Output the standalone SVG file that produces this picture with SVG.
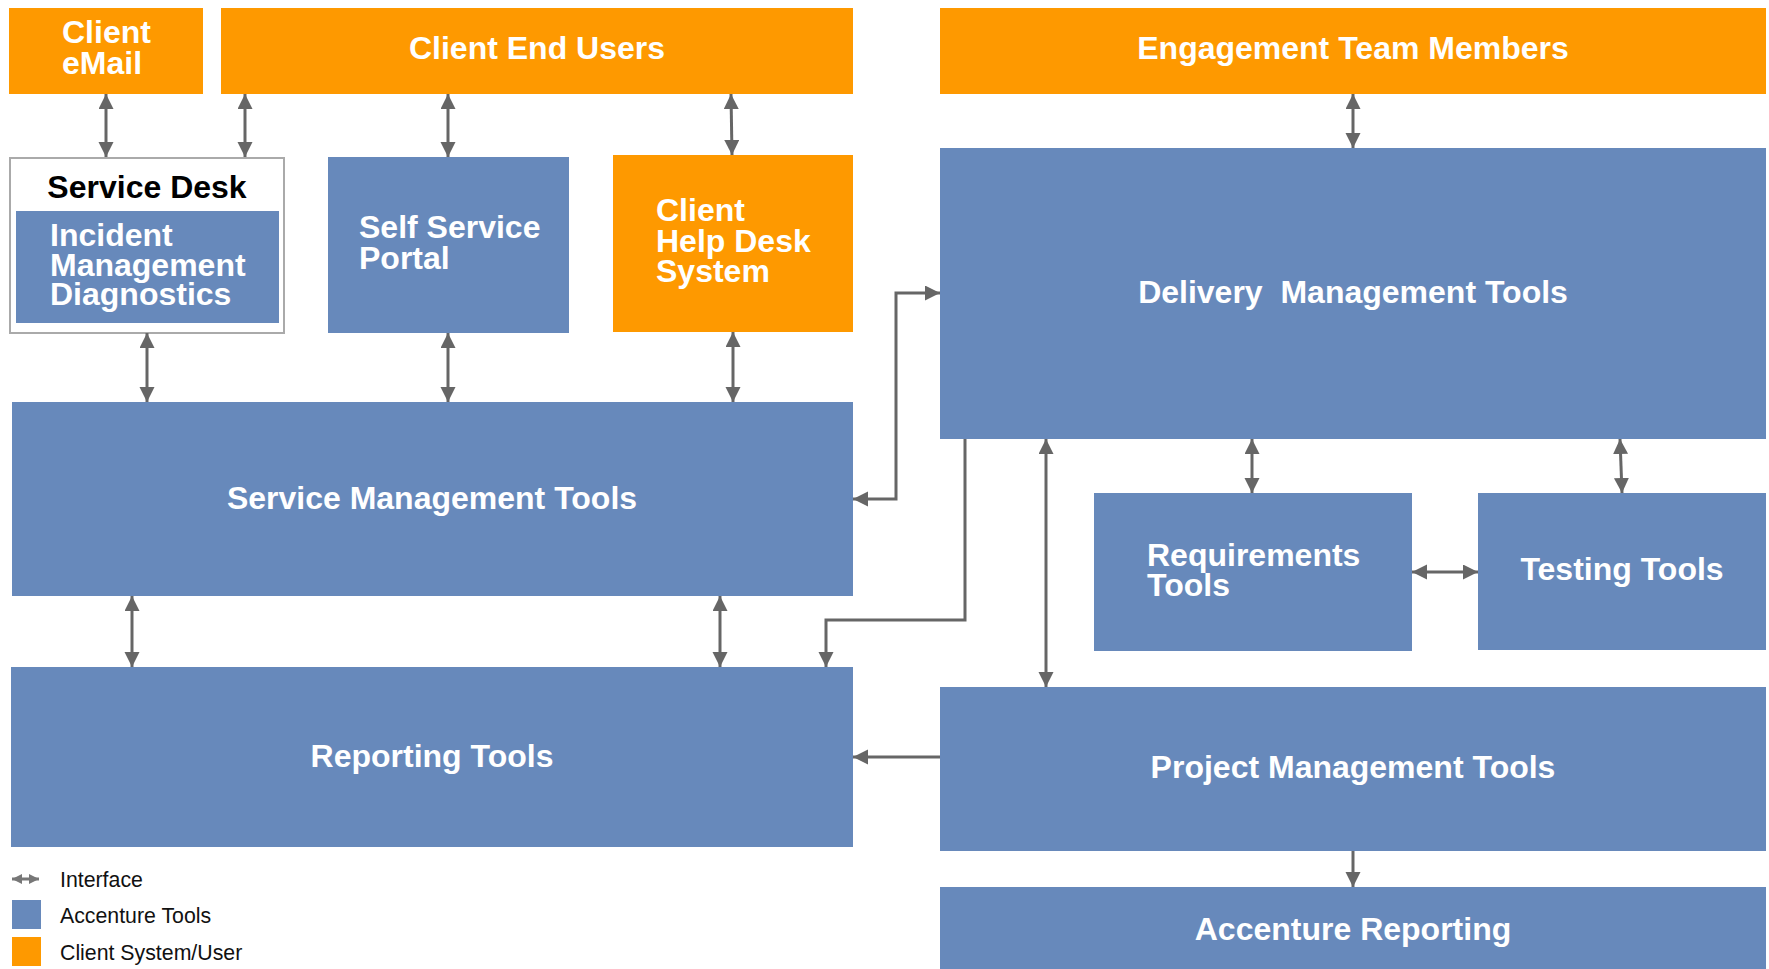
<svg xmlns="http://www.w3.org/2000/svg" width="1769" height="969" viewBox="0 0 1769 969">
<defs>
<marker id="ah" markerUnits="userSpaceOnUse" markerWidth="16" markerHeight="16" refX="15" refY="7.5" orient="auto-start-reverse" viewBox="0 0 16 16">
<path d="M0,0 L15,7.5 L0,15 z" fill="#666666"/>
</marker>
<marker id="ahs" markerUnits="userSpaceOnUse" markerWidth="11" markerHeight="11" refX="10" refY="5" orient="auto-start-reverse" viewBox="0 0 11 11">
<path d="M0,0 L10,5 L0,10 z" fill="#777777"/>
</marker>
<style>
.org{fill:#FE9900}
.blu{fill:#6789BB}
.lbl{font-family:"Liberation Sans",Arial,sans-serif;font-weight:bold;font-size:32px;fill:#FFFFFF}
.mid{text-anchor:middle}
.con{stroke:#666666;stroke-width:3;fill:none}
.leg{font-family:"Liberation Sans",Arial,sans-serif;font-size:21.3px;fill:#111111}
</style>
</defs>
<rect width="1769" height="969" fill="#FFFFFF"/>

<g id="client-email">
<rect class="org" x="9" y="8" width="194" height="86"/>
<text class="lbl" x="62" y="43">Client</text>
<text class="lbl" x="62" y="74">eMail</text>
</g>
<g id="client-end-users">
<rect class="org" x="221" y="8" width="632" height="86"/>
<text class="lbl mid" x="537" y="59">Client End Users</text>
</g>
<g id="engagement-team">
<rect class="org" x="940" y="8" width="826" height="86"/>
<text class="lbl mid" x="1353" y="59">Engagement Team Members</text>
</g>
<g id="service-desk">
<rect x="10" y="158" width="274" height="175" fill="#FFFFFF" stroke="#AAAAAA" stroke-width="2"/>
<text class="lbl mid" x="147" y="198" style="fill:#000000">Service Desk</text>
<rect class="blu" x="16" y="211" width="263" height="112"/>
<text class="lbl" x="50" y="246">Incident</text>
<text class="lbl" x="50" y="276">Management</text>
<text class="lbl" x="50" y="305">Diagnostics</text>
</g>
<g id="self-service-portal">
<rect class="blu" x="328" y="157" width="241" height="176"/>
<text class="lbl" x="359" y="238">Self Service</text>
<text class="lbl" x="359" y="269">Portal</text>
</g>
<g id="client-help-desk">
<rect class="org" x="613" y="155" width="240" height="177"/>
<text class="lbl" x="656" y="221">Client</text>
<text class="lbl" x="656" y="252">Help Desk</text>
<text class="lbl" x="656" y="282">System</text>
</g>
<g id="delivery-management">
<rect class="blu" x="940" y="148" width="826" height="291"/>
<text class="lbl mid" x="1353" y="303" xml:space="preserve">Delivery  Management Tools</text>
</g>
<g id="service-management">
<rect class="blu" x="12" y="402" width="841" height="194"/>
<text class="lbl mid" x="432" y="509">Service Management Tools</text>
</g>
<g id="requirements">
<rect class="blu" x="1094" y="493" width="318" height="158"/>
<text class="lbl" x="1147" y="566">Requirements</text>
<text class="lbl" x="1147" y="596">Tools</text>
</g>
<g id="testing">
<rect class="blu" x="1478" y="493" width="288" height="157"/>
<text class="lbl mid" x="1622" y="580">Testing Tools</text>
</g>
<g id="reporting">
<rect class="blu" x="11" y="667" width="842" height="180"/>
<text class="lbl mid" x="432" y="767">Reporting Tools</text>
</g>
<g id="project-management">
<rect class="blu" x="940" y="687" width="826" height="164"/>
<text class="lbl mid" x="1353" y="778">Project Management Tools</text>
</g>
<g id="accenture-reporting">
<rect class="blu" x="940" y="887" width="826" height="82"/>
<text class="lbl mid" x="1353" y="940">Accenture Reporting</text>
</g>

<g id="connectors">
<line class="con" x1="106" y1="94" x2="106" y2="157" marker-start="url(#ah)" marker-end="url(#ah)"/>
<line class="con" x1="245" y1="94" x2="245" y2="157" marker-start="url(#ah)" marker-end="url(#ah)"/>
<line class="con" x1="448" y1="94" x2="448" y2="157" marker-start="url(#ah)" marker-end="url(#ah)"/>
<line class="con" x1="731" y1="94" x2="732" y2="155" marker-start="url(#ah)" marker-end="url(#ah)"/>
<line class="con" x1="1353" y1="94" x2="1353" y2="148" marker-start="url(#ah)" marker-end="url(#ah)"/>
<line class="con" x1="147" y1="333" x2="147" y2="402" marker-start="url(#ah)" marker-end="url(#ah)"/>
<line class="con" x1="448" y1="333" x2="448" y2="402" marker-start="url(#ah)" marker-end="url(#ah)"/>
<line class="con" x1="733" y1="332" x2="733" y2="402" marker-start="url(#ah)" marker-end="url(#ah)"/>
<polyline class="con" points="940,293 896,293 896,499 853,499" marker-start="url(#ah)" marker-end="url(#ah)"/>
<line class="con" x1="132" y1="596" x2="132" y2="667" marker-start="url(#ah)" marker-end="url(#ah)"/>
<line class="con" x1="720" y1="596" x2="720" y2="667" marker-start="url(#ah)" marker-end="url(#ah)"/>
<polyline class="con" points="965,439 965,620 826,620 826,667" marker-end="url(#ah)"/>
<line class="con" x1="1046" y1="439" x2="1046" y2="687" marker-start="url(#ah)" marker-end="url(#ah)"/>
<line class="con" x1="1252" y1="439" x2="1252" y2="493" marker-start="url(#ah)" marker-end="url(#ah)"/>
<line class="con" x1="1620" y1="439" x2="1622" y2="493" marker-start="url(#ah)" marker-end="url(#ah)"/>
<line class="con" x1="1412" y1="572" x2="1478" y2="572" marker-start="url(#ah)" marker-end="url(#ah)"/>
<line class="con" x1="940" y1="757" x2="853" y2="757" marker-end="url(#ah)"/>
<line class="con" x1="1353" y1="851" x2="1353" y2="887" marker-end="url(#ah)"/>
</g>

<g id="legend">
<line x1="12" y1="879" x2="39" y2="879" stroke="#777777" stroke-width="3" marker-start="url(#ahs)" marker-end="url(#ahs)"/>
<text class="leg" x="60" y="887">Interface</text>
<rect class="blu" x="12" y="900" width="29" height="29"/>
<text class="leg" x="60" y="923">Accenture Tools</text>
<rect class="org" x="12" y="937" width="29" height="29"/>
<text class="leg" x="60" y="960">Client System/User</text>
</g>
</svg>
